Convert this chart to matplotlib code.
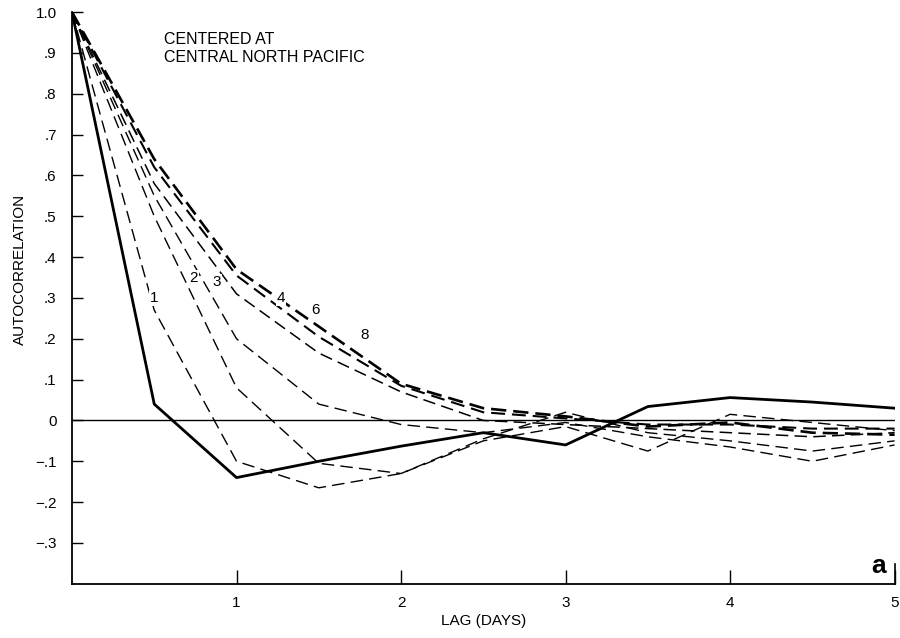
import matplotlib
matplotlib.use("Agg")
import matplotlib.pyplot as plt

plt.rcParams["font.family"] = ["Liberation Sans", "DejaVu Sans"]
plt.rcParams["lines.scale_dashes"] = False

# lag in days (twice-daily samples)
lag = [0, 0.5, 1.0, 1.5, 2.0, 2.5, 3.0, 3.5, 4.0, 4.5, 5.0]

# solid curve
ac_solid = [1.0, 0.04, -0.14, -0.10, -0.063, -0.03, -0.06, 0.034, 0.056, 0.045, 0.03]

# dashed curves, labelled 1, 2, 3, 4, 6, 8
ac_1 = [1.0, 0.27, -0.10, -0.165, -0.13, -0.05, -0.015, -0.075, 0.015, -0.005, -0.025]
ac_2 = [1.0, 0.50, 0.08, -0.105, -0.13, -0.045, 0.02, -0.03, -0.05, -0.075, -0.05]
ac_3 = [1.0, 0.55, 0.20, 0.04, -0.01, -0.03, -0.005, -0.04, -0.065, -0.10, -0.06]
ac_4 = [1.0, 0.58, 0.31, 0.165, 0.07, 0.0, -0.01, -0.02, -0.03, -0.04, -0.03]
ac_6 = [1.0, 0.62, 0.355, 0.205, 0.085, 0.02, 0.005, -0.01, -0.01, -0.02, -0.02]
ac_8 = [1.0, 0.64, 0.37, 0.23, 0.09, 0.03, 0.01, -0.015, -0.005, -0.03, -0.035]

curve_labels = ["1", "2", "3", "4", "6", "8"]
label_x = [0.50, 0.74, 0.88, 1.27, 1.48, 1.78]
label_y = [0.30, 0.35, 0.34, 0.30, 0.27, 0.21]

yticks = [-0.3, -0.2, -0.1, 0, 0.1, 0.2, 0.3, 0.4, 0.5, 0.6, 0.7, 0.8, 0.9, 1.0]
ytick_labels = ["\u2212.3", "\u2212.2", "\u2212.1", "0", ".1", ".2", ".3", ".4",
                ".5", ".6", ".7", ".8", ".9", "1.0"]
xticks = [1, 2, 3, 4, 5]

fig = plt.figure(figsize=(9, 6.38), dpi=100)
ax = fig.add_axes([0.08, 0.085, 0.914, 0.896])

dashed = [ac_1, ac_2, ac_3, ac_4, ac_6, ac_8]
widths = [1.0, 1.0, 1.0, 1.1, 1.5, 1.9]
dash_pat = [(9, 4.5), (9, 4.5), (9, 4.5), (9, 4.5), (10, 5), (11, 5)]
for vals, lw, dp in zip(dashed, widths, dash_pat):
    ax.plot(lag, vals, color="black", lw=lw, dashes=dp)
ax.plot(lag, ac_solid, color="black", lw=2.0)
ax.axhline(0, color="black", lw=1.0)

for t, x, y in zip(curve_labels, label_x, label_y):
    ax.text(x, y, t, fontsize=11, ha="center", va="center",
            bbox=dict(facecolor="white", edgecolor="none", pad=0.5))

ax.text(0.56, 0.952, "CENTERED AT\nCENTRAL NORTH PACIFIC", fontsize=11.5,
        va="top", ha="left", linespacing=1.3)

ax.set_xlim(0, 5)
ax.set_ylim(-0.4, 1.0)
ax.set_xticks(xticks)
ax.set_yticks(yticks)
ax.set_yticklabels(ytick_labels)
ax.tick_params(direction="in", length=8, width=1.0, labelsize=11)
ax.tick_params(axis="y", pad=11)
ax.tick_params(axis="x", length=10, pad=9)
ax.spines["top"].set_visible(False)
ax.spines["right"].set_visible(False)
ax.spines["left"].set_linewidth(1.3)
ax.spines["bottom"].set_linewidth(1.3)

ax.set_xlabel("LAG (DAYS)", fontsize=11, labelpad=3)
ax.set_ylabel("AUTOCORRELATION", fontsize=11, labelpad=6)
ax.yaxis.set_label_coords(-0.055, 0.55)

# panel letter with corner mark
ax.text(0.99, 0.01, "a", transform=ax.transAxes, fontsize=19,
        fontweight="bold", ha="right", va="bottom")
ax.plot([1.0, 1.0], [0.0, 0.035], transform=ax.transAxes, color="black",
        lw=1.2, clip_on=False)

fig.savefig("out.png", dpi=100)
